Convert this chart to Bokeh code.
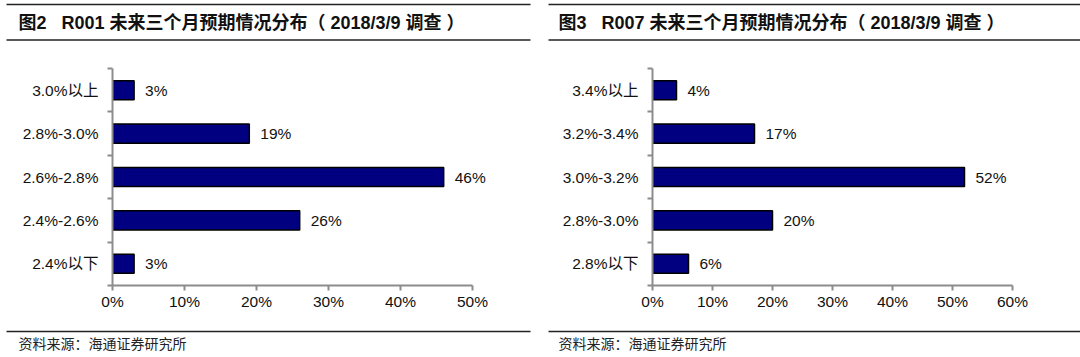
from bokeh.plotting import figure
from bokeh.models import (Range1d, FixedTicker, SingleIntervalTicker, PrintfTickFormatter,
                          ColumnDataSource)
from bokeh.layouts import row, column
from bokeh.core.properties import value
from bokeh.embed import file_html
from bokeh.resources import INLINE

# ---- data (top to bottom as shown) ----
titles = ["图2\u00a0\u00a0\u00a0R001 未来三个月预期情况分布（\u00a02018/3/9 调查\u00a0）",
          "图3\u00a0\u00a0\u00a0R007 未来三个月预期情况分布（\u00a02018/3/9 调查\u00a0）"]

left_categories = ["3.0%以上", "2.8%-3.0%", "2.6%-2.8%", "2.4%-2.6%", "2.4%以下"]
left_values = [3, 19, 46, 26, 3]
left_xmax = 50

right_categories = ["3.4%以上", "3.2%-3.4%", "3.0%-3.2%", "2.8%-3.0%", "2.8%以下"]
right_values = [4, 17, 52, 20, 6]
right_xmax = 60

source_text = "资料来源：海通证券研究所"

LATIN = "Liberation Sans, 'Noto Sans CJK SC'"
CJK = "'Noto Sans CJK SC'"
AXIS_GRAY = "#8c8c8c"
RULE = "#222222"

W = 1080
PW = 540          # panel width
HEAD_H = 48
CHART_H = 272
FOOT_H = 37
AXIS_LEN = 360    # pixel length of the value axis
FRAME_L = 112
FRAME_R = 5
BORDER_T = 20
BORDER_B = 35

# horizontal extents of the rules and text starts (pixels)
RULES = [(6, 530), (548, 1080)]
TEXT_X = [18, 558]


def deco_fig(h):
    f = figure(width=W, height=h, x_range=Range1d(0, W), y_range=Range1d(h, 0),
               x_axis_location=None, y_axis_location=None,
               output_backend="svg", toolbar_location=None,
               min_border=0, min_border_left=0, min_border_right=0,
               min_border_top=0, min_border_bottom=0)
    f.outline_line_color = None
    f.grid.visible = False
    return f


def chart(cats, vals, xmax):
    n = len(cats)
    ypos = [n - 0.5 - i for i in range(n)]
    frame_w = PW - FRAME_L - FRAME_R
    x_end = xmax * frame_w / AXIS_LEN
    p = figure(width=PW, height=CHART_H,
               x_range=Range1d(0, x_end), y_range=Range1d(0, n),
               output_backend="svg", toolbar_location=None,
               min_border_left=FRAME_L, min_border_right=FRAME_R,
               min_border_top=BORDER_T, min_border_bottom=BORDER_B)
    p.outline_line_color = None
    p.grid.visible = False

    xa = p.xaxis[0]
    xa.bounds = (0, xmax)
    xa.ticker = SingleIntervalTicker(interval=10)
    xa.formatter = PrintfTickFormatter(format="%d%%")
    xa.axis_line_color = AXIS_GRAY
    xa.axis_line_width = 2
    xa.major_tick_line_color = AXIS_GRAY
    xa.major_tick_line_width = 2
    xa.major_tick_out = 5
    xa.major_tick_in = 0
    xa.minor_tick_line_color = None
    xa.major_label_standoff = 2
    xa.major_label_text_font = LATIN
    xa.major_label_text_font_size = "15.5px"
    xa.major_label_text_color = "#111111"

    ya = p.yaxis[0]
    ya.ticker = FixedTicker(ticks=ypos, minor_ticks=[float(k) for k in range(n + 1)])
    ya.major_label_overrides = {float(y): c for y, c in zip(ypos, cats)}
    ya.axis_line_color = AXIS_GRAY
    ya.axis_line_width = 2
    ya.major_tick_line_color = None
    ya.major_tick_out = 0
    ya.major_tick_in = 0
    ya.minor_tick_line_color = AXIS_GRAY
    ya.minor_tick_line_width = 2
    ya.minor_tick_out = 5
    ya.minor_tick_in = 0
    ya.major_label_standoff = 9
    ya.major_label_text_font = LATIN
    ya.major_label_text_font_size = "15.5px"
    ya.major_label_text_color = "#111111"

    src = ColumnDataSource(dict(y=ypos, val=vals, lab=[f"{v}%" for v in vals]))
    p.hbar(y="y", left=0, right="val", height=0.44, source=src,
           fill_color="#000080", line_color="#000000", line_width=1.5)
    p.text(x="val", y="y", text="lab", source=src, x_offset=11,
           text_baseline="middle", text_align="left",
           text_font=value("Liberation Sans"), text_font_size="15.5px", text_color="#111111")
    return p


# ---- header: rules + titles ----
head = deco_fig(HEAD_H)
head.segment(x0=[r[0] for r in RULES] * 2, y0=[4, 4, 39.5, 39.5],
             x1=[r[1] for r in RULES] * 2, y1=[4, 4, 39.5, 39.5],
             line_color=RULE, line_width=1.6)
head.text(x=TEXT_X, y=[22, 22], text=titles, text_baseline="middle", text_align="left",
          text_font=value(LATIN), text_font_size="18px", text_font_style="bold",
          text_color="#111111")

# ---- footer: rules + source ----
foot = deco_fig(FOOT_H)
foot.segment(x0=[r[0] for r in RULES], y0=[11, 11], x1=[r[1] for r in RULES], y1=[11, 11],
             line_color=RULE, line_width=1.6)
foot.text(x=TEXT_X, y=[22, 22], text=[source_text, source_text], text_baseline="middle",
          text_align="left", text_font=value(CJK), text_font_size="14px", text_color="#222222")

left = chart(left_categories, left_values, left_xmax)
right = chart(right_categories, right_values, right_xmax)

layout = column(head, row(left, right, spacing=0), foot, spacing=0)
open("out.html", "w").write(file_html(layout, INLINE))
